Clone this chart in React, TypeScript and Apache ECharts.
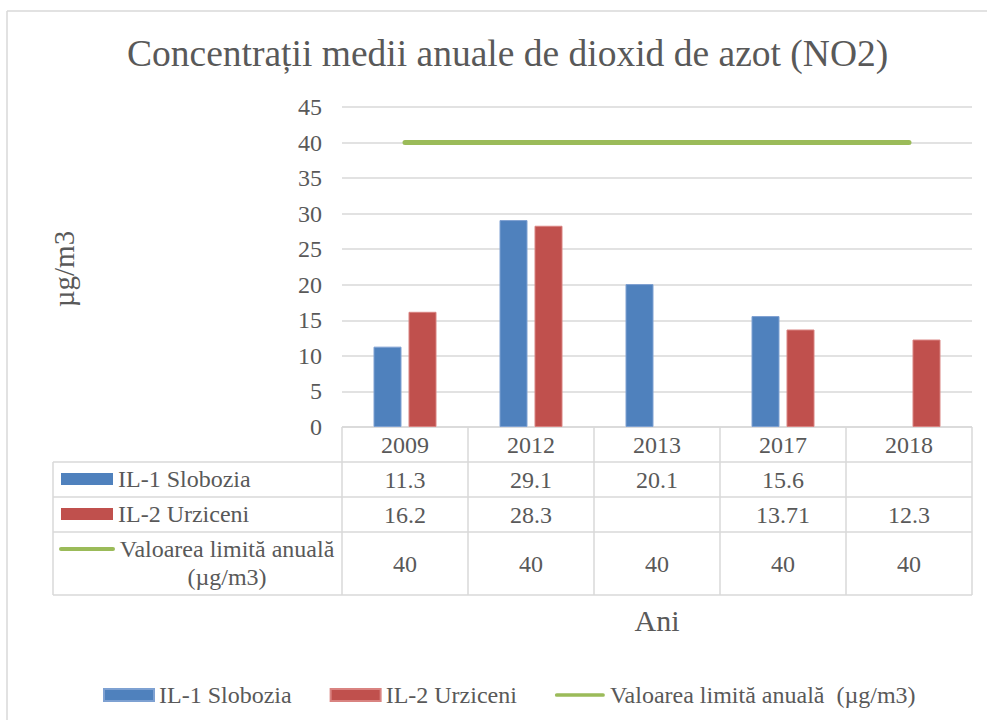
import React, { useEffect, useRef } from "react";
import * as echarts from "echarts";

const categories = ["2009", "2012", "2013", "2017", "2018"];
const slobozia: (number | null)[] = [11.3, 29.1, 20.1, 15.6, null];
const urziceni: (number | null)[] = [16.2, 28.3, null, 13.71, 12.3];
const limita: number[] = [40, 40, 40, 40, 40];
const seriesNames = ["IL-1 Slobozia", "IL-2 Urziceni", "Valoarea limită anuală  (µg/m3)"];
const tableNames = ["IL-1 Slobozia", "IL-2 Urziceni", "Valoarea limită anuală\n(µg/m3)"];

const FONT = "Liberation Serif";
const TXT = "#595959";
const GRIDC = "#D9D9D9";
const BLUE = "#4F81BD";
const RED = "#C0504D";
const GREEN = "#9BBB59";

const GL = 342, GR = 972, GT = 107, GB = 427;
const rowsY = [427, 462, 497, 532, 595];
const tableLeft = 53;

export default function App() {
  const ref = useRef<HTMLDivElement>(null);
  useEffect(() => {
    const chart = echarts.init(ref.current!, null, { renderer: "svg" });
    const colW = (GR - GL) / categories.length;
    const g: any[] = [];
    const ln = (x1: number, y1: number, x2: number, y2: number, c = GRIDC, w = 1.5) =>
      g.push({ type: "line", shape: { x1, y1, x2, y2 }, style: { stroke: c, lineWidth: w }, silent: true });
    // outer border
    ln(7, 11, 987, 11);
    ln(7, 11, 7, 720);
    // table lines
    ln(GL, rowsY[0], GR, rowsY[0]);
    for (let i = 1; i < rowsY.length; i++) ln(tableLeft, rowsY[i], GR, rowsY[i]);
    ln(tableLeft, rowsY[1], tableLeft, rowsY[4]);
    for (let i = 0; i <= categories.length; i++) ln(GL + i * colW, rowsY[0], GL + i * colW, rowsY[4]);
    const txt = (x: number, y: number, t: string, align = "center", size = 24, extra: any = {}) =>
      g.push({
        type: "text", x, y, silent: true, ...extra,
        style: { text: t, fill: TXT, fontFamily: FONT, fontSize: size, align, verticalAlign: "middle", lineHeight: 28 },
      });
    const rows = [slobozia, urziceni, limita];
    rows.forEach((arr, r) => {
      const cy = (rowsY[r + 1] + rowsY[r + 2]) / 2;
      arr.forEach((v, i) => {
        if (v != null) txt(GL + (i + 0.5) * colW, cy, String(v));
      });
    });
    // legend keys in table
    g.push({ type: "rect", shape: { x: 61, y: 473, width: 52, height: 12 }, style: { fill: BLUE }, silent: true });
    txt(118, 479, tableNames[0], "left");
    g.push({ type: "rect", shape: { x: 61, y: 508, width: 52, height: 12 }, style: { fill: RED }, silent: true });
    txt(118, 514, tableNames[1], "left");
    g.push({ type: "line", shape: { x1: 61, y1: 549, x2: 113, y2: 549 }, style: { stroke: GREEN, lineWidth: 4, lineCap: "round" }, silent: true });
    txt(227, 563, tableNames[2], "center");
    // axis titles
    txt(64, 269, "µg/m3", "center", 29, { rotation: Math.PI / 2 });
    txt(657, 620, "Ani", "center", 30);

    chart.setOption({
      animation: false,
      textStyle: { fontFamily: FONT },
      title: {
        text: "Concentrații medii anuale de dioxid de azot (NO2)",
        left: 122, top: 29,
        textStyle: { fontFamily: FONT, fontSize: 37.5, fontWeight: "normal", color: TXT },
      },
      grid: { left: GL, top: GT, width: GR - GL, height: GB - GT, containLabel: false },
      xAxis: {
        type: "category", data: categories,
        axisLine: { show: false }, axisTick: { show: false },
        axisLabel: { color: TXT, fontFamily: FONT, fontSize: 24, margin: 6 },
      },
      yAxis: {
        type: "value", min: 0, max: 45, interval: 5,
        axisLine: { show: false }, axisTick: { show: false },
        axisLabel: { color: TXT, fontFamily: FONT, fontSize: 24, margin: 20 },
        splitLine: { lineStyle: { color: GRIDC, width: 1.5 } },
      },
      legend: {
        left: 98, top: 678, itemGap: 38, itemWidth: 50, itemHeight: 12,
        textStyle: { color: TXT, fontFamily: FONT, fontSize: 24 },
        data: [
          { name: seriesNames[0], icon: "rect" },
          { name: seriesNames[1], icon: "rect" },
          { name: seriesNames[2],
            icon: "path://M0,0 L0,0 M2,4 L52,4 A2,2 0 0 1 52,8 L2,8 A2,2 0 0 1 2,4 Z M54,12 L54,12",
            itemStyle: { color: GREEN } },
        ],
      },
      series: [
        { name: seriesNames[0], type: "bar", data: slobozia, barWidth: 28, barGap: "25%",
          itemStyle: { color: BLUE, borderColor: "#7ea1d2", borderWidth: 1 } },
        { name: seriesNames[1], type: "bar", data: urziceni, barWidth: 28, barGap: "25%",
          itemStyle: { color: RED, borderColor: "#d98381", borderWidth: 1 } },
        { name: seriesNames[2], type: "line", data: limita, symbol: "none",
          lineStyle: { color: GREEN, width: 5, cap: "round" }, itemStyle: { color: GREEN } },
      ],
      graphic: g,
    });
    return () => chart.dispose();
  }, []);
  return <div ref={ref} style={{ width: 987, height: 720, position: "absolute", left: 0, top: 0 }} />;
}
